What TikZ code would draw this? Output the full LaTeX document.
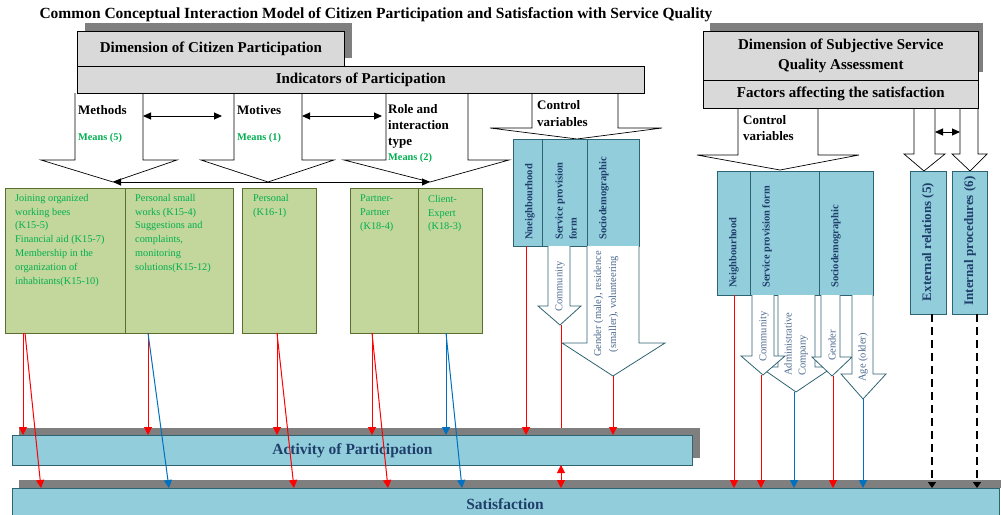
\documentclass[tikz,border=0pt]{standalone}
\usepackage{fontspec}
\setmainfont{Liberation Serif}
\usetikzlibrary{arrows.meta}
\definecolor{boxgray}{HTML}{D9D9D9}
\definecolor{shadowgray}{HTML}{7F7F7F}
\definecolor{lightblue}{HTML}{92CDDC}
\definecolor{bluedark}{HTML}{2E6373}
\definecolor{lightgreen}{HTML}{C3D69B}
\definecolor{greendark}{HTML}{5A6E30}
\definecolor{boxtext}{HTML}{1F3F6A}
\definecolor{arrowtext}{HTML}{4D6A90}
\definecolor{greentext}{HTML}{00B050}
\definecolor{linered}{HTML}{FF0000}
\definecolor{lineblue}{HTML}{0070C0}
\tikzset{
  graybox/.style={draw=black, fill=boxgray, line width=0.6pt, inner sep=0pt},
  bluebox/.style={draw=bluedark, fill=lightblue, line width=0.8pt, inner sep=0pt},
  greenbox/.style={draw=greendark, fill=lightgreen, line width=0.8pt, inner sep=0pt},
  shadowfill/.style={fill=shadowgray},
  blockarr/.style={draw=black, fill=white, line width=0.7pt},
  tealarr/.style={draw=bluedark, fill=white, line width=0.8pt},
  redarr/.style={draw=linered, line width=1pt, -{Triangle[length=8pt,width=8pt]}},
  redplain/.style={draw=linered, line width=1pt},
  bluearr/.style={draw=lineblue, line width=1pt, -{Triangle[length=8pt,width=8pt]}},
  dasharr/.style={draw=black, line width=2pt, dash pattern=on 8pt off 5pt, -{Triangle[length=6pt,width=8pt]}},
  dblarr/.style={draw=black, line width=1pt, {Triangle[length=8pt,width=7pt]}-{Triangle[length=8pt,width=7pt]}},
  reddbl/.style={draw=linered, line width=1pt, {Triangle[length=8pt,width=8pt]}-{Triangle[length=8pt,width=8pt]}},
  headtext/.style={font=\bfseries\fontsize{15}{20}\selectfont},
  labeltext/.style={font=\bfseries\fontsize{13}{16}\selectfont, align=left, anchor=north west, inner sep=0pt},
  meanstext/.style={font=\bfseries\fontsize{10.3}{12}\selectfont, text=greentext, anchor=north west, inner sep=0pt},
  greenlabel/.style={font=\fontsize{10.3}{13.8}\selectfont, text=greentext, align=left, anchor=north west, inner sep=0pt},
  boxlabel/.style={font=\bfseries\fontsize{10.5}{14}\selectfont, text=boxtext, rotate=90, anchor=west, inner sep=0pt, align=left},
  biglabel/.style={font=\bfseries\fontsize{13}{16}\selectfont, text=boxtext, rotate=90, inner sep=0pt},
  arrlabel/.style={font=\fontsize{10.5}{14}\selectfont, text=arrowtext, rotate=90, anchor=west, inner sep=0pt, align=left},
}
\begin{document}
\begin{tikzpicture}[x=1pt,y=-1pt]
\useasboundingbox (0,0) rectangle (1001,514);
\clip (0,0) rectangle (1001,514);

% title
\node[font=\bfseries\fontsize{15.5}{18}\selectfont] (title) at (376,15) {Common Conceptual Interaction Model of Citizen Participation and Satisfaction with Service Quality};

% ---------- left dimension ----------
\fill[shadowfill] (85,23) rectangle (352,58);
\node[graybox, minimum width=267pt, minimum height=35pt, anchor=north west, headtext] (dimcp) at (77,31) {Dimension of Citizen Participation};

% block arrows under indicators
\filldraw[blockarr] (75,93) -- (75,160) -- (41,160) -- (113,182) -- (177,160) -- (143,160) -- (143,93);
\filldraw[blockarr] (234,93) -- (234,160) -- (201,160) -- (268,182) -- (334,160) -- (302,160) -- (302,93);
\filldraw[blockarr] (386,93) -- (386,160) -- (344,160) -- (430,182) -- (509,160) -- (468,160) -- (468,93);
\filldraw[blockarr] (532,93) -- (532,128) -- (490,128) -- (577,139) -- (662,128) -- (618,128) -- (618,93);

\node[graybox, minimum width=567pt, minimum height=27pt, anchor=north west, headtext] (indic) at (77,66) {Indicators of Participation};

\node[labeltext] (methods) at (78,105) {Methods};
\node[meanstext] (means5) at (78,133) {Means (5)};
\node[labeltext] (motives) at (237,105) {Motives};
\node[meanstext] (means1) at (237,133) {Means (1)};
\node[labeltext] (role) at (388,104) {Role and\\interaction\\type};
\node[meanstext] (means2) at (388,153) {Means (2)};
\node[labeltext, font=\bfseries\fontsize{13}{17}\selectfont] (ctrl1) at (537,100) {Control\\variables};

\coordinate (m1r) at (143,116); \coordinate (m2l) at (222,116);
\coordinate (m2r) at (302,116); \coordinate (m3l) at (382,116);
\draw[dblarr] (m1r) -- (m2l);
\draw[dblarr] (m2r) -- (m3l);
\coordinate (tip1) at (113,182); \coordinate (tip3) at (430,182);
\draw[dblarr] (tip1) -- (tip3);

% green boxes
\node[greenbox, minimum width=120pt, minimum height=145pt, anchor=north west] (g1) at (5,188) {};
\node[greenbox, minimum width=108pt, minimum height=145pt, anchor=north west] (g2) at (125,188) {};
\node[greenbox, minimum width=74pt, minimum height=145pt, anchor=north west] (g3) at (242,188) {};
\node[greenbox, minimum width=68pt, minimum height=145pt, anchor=north west] (g4) at (350,188) {};
\node[greenbox, minimum width=64pt, minimum height=145pt, anchor=north west] (g5) at (418,188) {};
\node[greenlabel] (g1t) at (15,194) {Joining organized\\working bees\\(K15-5)\\Financial aid (K15-7)\\Membership in the\\organization of\\inhabitants(K15-10)};
\node[greenlabel] (g2t) at (135,194) {Personal small\\works (K15-4)\\Suggestions and\\complaints,\\monitoring\\solutions(K15-12)};
\node[greenlabel] (g3t) at (253,194) {Personal\\(K16-1)};
\node[greenlabel] (g4t) at (360,195) {Partner-\\Partner\\(K18-4)};
\node[greenlabel] (g5t) at (428,195) {Client-\\Expert\\(K18-3)};

% left blue group
\node[bluebox, minimum width=29pt, minimum height=107pt, anchor=north west] (bl1) at (513,139) {};
\node[bluebox, minimum width=45pt, minimum height=107pt, anchor=north west] (bl2) at (542,139) {};
\node[bluebox, minimum width=52pt, minimum height=107pt, anchor=north west] (bl3) at (587,139) {};
\node[boxlabel] (bl1t) at (530,240) {Nneighbourhood};
\node[boxlabel] (bl2t) at (566,240) {Service provision\\form};
\node[boxlabel] (bl3t) at (604,240) {Sociodemographic};

% left control arrows
\filldraw[tealarr] (548,246) -- (548,306) -- (538,306) -- (560,325) -- (581,306) -- (570,306) -- (570,246);
\filldraw[tealarr] (587,246) -- (587,343) -- (562,343) -- (613,376) -- (665,343) -- (639,343) -- (639,246);
\node[arrlabel] (lcom) at (560,312) {Community};
\node[arrlabel, anchor=center, align=center, font=\fontsize{10.5}{15}\selectfont] (lgen) at (606,304) {Gender (male), residence\\(smaller), volunteering};

% ---------- right dimension ----------
\fill[shadowfill] (710,23) rectangle (983,72);
\node[graybox, minimum width=275pt, minimum height=49pt, anchor=north west, headtext, font=\bfseries\fontsize{15}{20}\selectfont, align=center] (dimsq) at (703,31) {Dimension of Subjective Service\\Quality Assessment};

\filldraw[blockarr] (738,108) -- (738,155) -- (697,155) -- (780,170) -- (859,155) -- (818,155) -- (818,108);
\filldraw[blockarr] (914,108) -- (914,154) -- (904,154) -- (924,171) -- (945,154) -- (935,154) -- (935,108);
\filldraw[blockarr] (960,108) -- (960,154) -- (952,154) -- (970,171) -- (987,154) -- (978,154) -- (978,108);

\node[graybox, minimum width=275pt, minimum height=28pt, anchor=north west, headtext] (factors) at (703,80) {Factors affecting the satisfaction};
\node[labeltext] (ctrl2) at (743,115) {Control\\variables};
\coordinate (e1r) at (935,132); \coordinate (e2l) at (960,132);
\draw[dblarr] (e1r) -- (e2l);

% right blue group
\node[bluebox, minimum width=33pt, minimum height=124pt, anchor=north west] (br1) at (717,171) {};
\node[bluebox, minimum width=69pt, minimum height=124pt, anchor=north west] (br2) at (750,171) {};
\node[bluebox, minimum width=54pt, minimum height=124pt, anchor=north west] (br3) at (819,171) {};
\node[boxlabel] (br1t) at (734,288) {Neighbourhood};
\node[boxlabel] (br2t) at (767,288) {Service provision form};
\node[boxlabel] (br3t) at (836,288) {Sociodemographic};
\node[bluebox, minimum width=36pt, minimum height=143pt, anchor=north west] (ext) at (910,171) {};
\node[bluebox, minimum width=35pt, minimum height=143pt, anchor=north west] (int) at (952,171) {};
\node[biglabel] (extt) at (928,242) {External relations (5)};
\node[biglabel] (intt) at (970,241) {Internal procedures (6)};

% right control arrows
\filldraw[tealarr] (778,295) -- (778,367) -- (760,367) -- (796,392) -- (833,367) -- (815,367) -- (815,295);
\filldraw[tealarr] (752,295) -- (752,356) -- (741,356) -- (763,375) -- (785,356) -- (774,356) -- (774,295);
\filldraw[tealarr] (821,295) -- (821,357) -- (812,357) -- (832,376) -- (852,357) -- (840,357) -- (840,295);
\filldraw[tealarr] (852,295) -- (852,374) -- (841,374) -- (863,399) -- (886,374) -- (873,374) -- (873,295);
\node[arrlabel] (rcom) at (764,362) {Community};
\node[arrlabel] (radm) at (796,376) {Administrative\\Company};
\node[arrlabel] (rgen) at (832,361) {Gender};
\node[arrlabel] (rage) at (863,382) {Age (older)};

% ---------- bottom bars ----------
\fill[shadowfill] (19,428) rectangle (700,458);
\node[bluebox, minimum width=680pt, minimum height=30pt, anchor=north west, text=boxtext, font=\bfseries\fontsize{15.5}{18}\selectfont] (act) at (12,435) {Activity of Participation};
\fill[shadowfill] (19,480) rectangle (1010,488);
\node[bluebox, minimum width=987pt, minimum height=40pt, anchor=north west] (sat) at (12,488) {};
\node[text=boxtext, font=\bfseries\fontsize{15.5}{18}\selectfont, inner sep=0pt] (satt) at (505,504) {Satisfaction};

% ---------- connectors from green boxes ----------
\coordinate (a1) at (23,333); \coordinate (a1s) at (25,333); \coordinate (s1) at (41,488);
\coordinate (a2) at (148,333); \coordinate (s2) at (169,488);
\coordinate (a3) at (277,333); \coordinate (s3) at (294,488);
\coordinate (a4) at (372,333); \coordinate (s4) at (388,488);
\coordinate (a5) at (446,333); \coordinate (s5) at (462,488);
\draw[redarr] (a1) -- (a1 |- act.north);
\draw[redarr] (a1s) -- (s1);
\draw[redarr] (a2) -- (a2 |- act.north);
\draw[bluearr] (a2) -- (s2);
\draw[redarr] (a3) -- (a3 |- act.north);
\draw[redarr] (a3) -- (s3);
\draw[redarr] (a4) -- (a4 |- act.north);
\draw[redarr] (a4) -- (s4);
\draw[bluearr] (a5) -- (a5 |- act.north);
\draw[bluearr] (a5) -- (s5);

% left control lines
\coordinate (nb1) at (526,246);
\coordinate (lct) at (561,325);
\coordinate (lgt) at (613,376);
\coordinate (lce) at (561,428);
\draw[redarr] (nb1) -- (nb1 |- act.north);
\draw[redplain] (lct) -- (lce);
\draw[redarr] (lgt) -- (lgt |- act.north);
\coordinate (ab) at (561,465);
\draw[reddbl] (ab) -- (ab |- sat.north);

% right control lines
\coordinate (nb2) at (734,295);
\coordinate (rct) at (761,375);
\coordinate (rat) at (794,392);
\coordinate (rgt) at (833,376);
\coordinate (rat2) at (863,399);
\draw[redarr] (nb2) -- (nb2 |- sat.north);
\draw[redarr] (rct) -- (rct |- sat.north);
\draw[bluearr] (rat) -- (rat |- sat.north);
\draw[redarr] (rgt) -- (rgt |- sat.north);
\draw[bluearr] (rat2) -- (rat2 |- sat.north);
\coordinate (exb) at (932,314);
\coordinate (inb) at (977,314);
\draw[dasharr] (exb) -- (exb |- sat.north);
\draw[dasharr] (inb) -- (inb |- sat.north);
\end{tikzpicture}
\end{document}
